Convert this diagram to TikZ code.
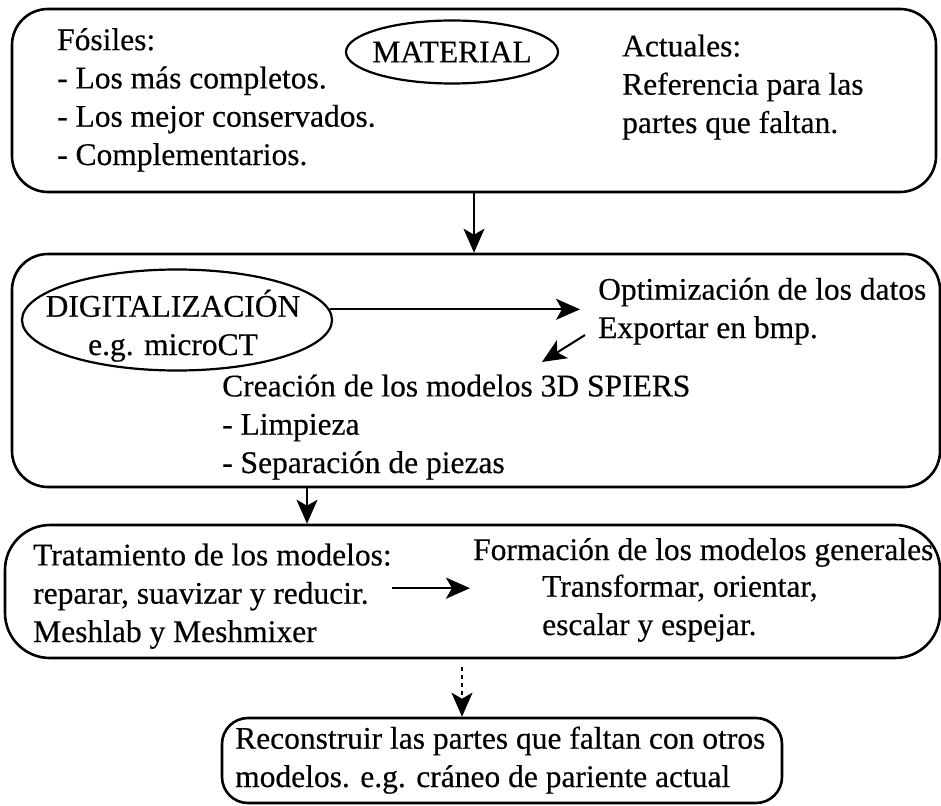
\documentclass[tikz,border=0pt]{standalone}
\usepackage{fontspec}
\setmainfont{Liberation Serif}[FakeBold=0.4,AutoFakeBold=0]
\usetikzlibrary{positioning,arrows.meta,shapes.geometric,calc}

\begin{document}
\begin{tikzpicture}[x=1pt,y=-1pt,
every node/.style={font=\fontsize{31.5}{38.3}\selectfont,inner sep=0pt},
box/.style={draw,line width=2.6pt,rounded corners=36pt},
oval/.style={draw,ellipse,line width=2.2pt,align=center},
txt/.style={align=left,anchor=base west},
>={Stealth[length=24pt,width=21pt,inset=6pt]}]
\useasboundingbox (0,0) rectangle (941,805);
% boxes
\node[box,minimum width=924pt,minimum height=183pt] (material) at (474,100.5) {};
\node[box,minimum width=928pt,minimum height=233pt] (digital) at (476,370.5) {};
\node[box,minimum width=935pt,minimum height=133pt,rounded corners=45pt] (modelos) at (472.5,591.5) {};
\node[box,minimum width=560pt,minimum height=85pt,rounded corners=26pt] (recbox) at (502,760.5) {};
% texts (anchored on the baseline of the last line)
\node[oval,minimum width=212pt,minimum height=63pt,inner xsep=-8pt] (mat) at (452,52) {MATERIAL};
\node[txt] (fos) at (57,165) {Fósiles:\\- Los más completos.\\- Los mejor conservados.\\- Complementarios.};
\node[txt] (act) at (622,133) {Actuales:\\Referencia para las\\partes que faltan.};
\node[oval,minimum width=310pt,minimum height=101pt] (dig) at (177,320) {};
\node[txt,align=center,anchor=base] (digtxt) at (173,355) {DIGITALIZACIÓN\\e.g. microCT};
\node[txt] (opt) at (598,338) {Optimización de los datos\\Exportar en bmp.};
\node[txt] (cre) at (222,473) {Creación de los modelos 3D SPIERS\\- Limpieza\\- Separación de piezas};
\node[txt] (tra) at (33,642) {Tratamiento de los modelos:\\reparar, suavizar y reducir.\\Meshlab y Meshmixer};
\node[txt] (fmg) at (473,560) {Formación de los modelos generales};
\node[txt] (trf) at (542,635) {Transformar, orientar,\\escalar y espejar.};
\node[txt] (rec) at (235,787) {Reconstruir las partes que faltan con otros\\modelos. e.g. cráneo de pariente actual};
% connectors
\coordinate (o1) at (585,335);
\coordinate (o2) at (542,362);
\coordinate (c2) at (307,0);
\coordinate (d1) at (462,667);
\draw[->,line width=2pt] (material.south) -- (material.south |- digital.north);
\draw[->,line width=2pt] (dig.4) -- ([xshift=-18pt]opt.west |- dig.4);
\draw[->,line width=2pt] (o1) -- (o2);
\draw[->,line width=2pt] (digital.south -| c2) -- (modelos.north -| c2);
\draw[->,line width=2.6pt] ([yshift=8pt]tra.east) -- ([yshift=8pt,xshift=-3pt]tra.east -| fmg.west);
\draw[->,line width=2pt,dash pattern=on 4pt off 4pt] (d1) -- (d1 |- recbox.north);
\end{tikzpicture}
\end{document}
